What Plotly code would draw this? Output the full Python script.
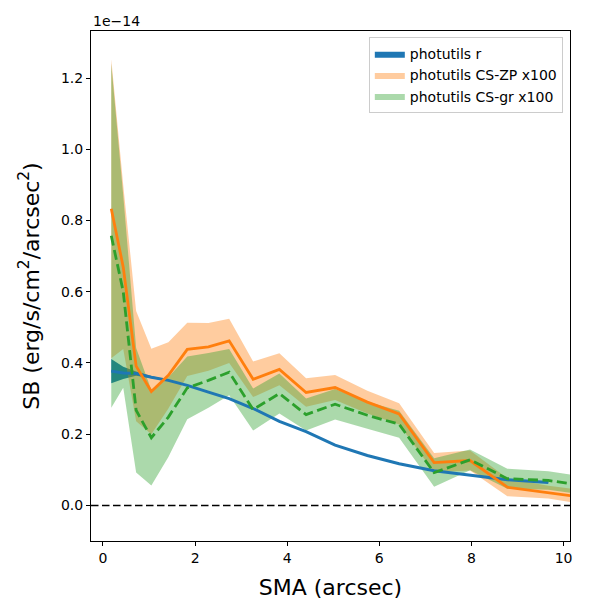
import plotly.graph_objects as go

# SMA (arcsec)
sma = [0.18, 0.44, 0.72, 1.05, 1.42, 1.83, 2.29, 2.74, 3.26, 3.83,
       4.41, 5.04, 5.74, 6.43, 7.19, 7.97, 8.78, 9.67, 10.64]

# surface brightness, in units of 1e-14 erg/s/cm^2/arcsec^2
sb_r = [0.377, 0.372, 0.370, 0.360, 0.351, 0.337, 0.318, 0.300, 0.272, 0.236,
        0.207, 0.169, 0.140, 0.117, 0.097, 0.084, 0.072, 0.064]
sb_r_err = [0.034, 0.017, 0.006, 0.003, 0.002, 0.002, 0.001, 0.001, 0.001, 0.001,
            0.001, 0.001, 0.001, 0.001, 0.001, 0.001, 0.001, 0.001]

sb_zp = [0.833, 0.669, 0.391, 0.320, 0.365, 0.438, 0.445, 0.462, 0.354, 0.382,
         0.317, 0.331, 0.290, 0.257, 0.120, 0.126, 0.051, 0.037, 0.019]
sb_zp_err = [0.42, 0.23, 0.155, 0.12, 0.093, 0.075, 0.067, 0.062, 0.05, 0.045,
             0.04, 0.035, 0.032, 0.03, 0.027, 0.028, 0.025, 0.018, 0.02]

sb_gr = [0.757, 0.60, 0.267, 0.19, 0.248, 0.33, 0.351, 0.374, 0.269, 0.314,
         0.255, 0.284, 0.253, 0.228, 0.092, 0.128, 0.075, 0.070, 0.052]
sb_gr_err = [0.483, 0.27, 0.175, 0.134, 0.112, 0.088, 0.077, 0.065, 0.059, 0.056,
             0.045, 0.043, 0.038, 0.038, 0.04, 0.029, 0.028, 0.026, 0.025]

BLUE = '#1f77b4'
ORANGE = '#ff7f0e'
GREEN = '#2ca02c'

fig = go.Figure()


def add_band(x, y, err, fillcolor, name):
    lo = [v - e for v, e in zip(y, err)]
    hi = [v + e for v, e in zip(y, err)]
    fig.add_trace(go.Scatter(x=x, y=lo, mode='lines', line=dict(width=0),
                             showlegend=False, hoverinfo='skip'))
    fig.add_trace(go.Scatter(x=x, y=hi, mode='lines', line=dict(width=0),
                             fill='tonexty', fillcolor=fillcolor, name=name))


# bands first, lines on top
add_band(sma[:len(sb_r)], sb_r, sb_r_err, BLUE, 'photutils r')
add_band(sma, sb_zp, sb_zp_err, 'rgba(255,127,14,0.4)', 'photutils CS-ZP x100')
add_band(sma, sb_gr, sb_gr_err, 'rgba(44,160,44,0.4)', 'photutils CS-gr x100')

fig.add_trace(go.Scatter(x=sma[:len(sb_r)], y=sb_r, mode='lines',
                         line=dict(color=BLUE, width=3), showlegend=False))
fig.add_trace(go.Scatter(x=sma, y=sb_zp, mode='lines',
                         line=dict(color=ORANGE, width=2.8), showlegend=False))
fig.add_trace(go.Scatter(x=sma, y=sb_gr, mode='lines',
                         line=dict(color=GREEN, width=2.8, dash='10px,4.5px'),
                         showlegend=False))

# zero level
fig.add_shape(type='line', xref='paper', x0=0, x1=1, yref='y', y0=0, y1=0,
              line=dict(color='black', width=1.5, dash='7.5px,3.5px'))

fig.add_annotation(text='1e\u221214', xref='paper', yref='paper', x=0, y=1,
                   xanchor='left', yanchor='bottom', showarrow=False,
                   font=dict(size=14, color='black'))

axis_style = dict(showline=True, linecolor='black', linewidth=1, mirror=True,
                  ticks='outside', ticklen=4, tickcolor='black', showgrid=False,
                  zeroline=False, automargin=False,
                  tickfont=dict(size=14, color='black'))

fig.update_xaxes(range=[-0.26, 10.14], tickvals=[0, 2, 4, 6, 8, 10],
                 title=dict(text='SMA (arcsec)', font=dict(size=22, color='black')),
                 **axis_style)
fig.update_yaxes(range=[-0.1, 1.332], tickvals=[0, 0.2, 0.4, 0.6, 0.8, 1.0, 1.2],
                 tickformat='.1f',
                 title=dict(text='SB (erg/s/cm<sup>2</sup>/arcsec<sup>2</sup>)',
                            font=dict(size=22, color='black')),
                 **axis_style)

fig.update_layout(
    width=600, height=600,
    margin=dict(l=91, r=30, t=31, b=59),
    plot_bgcolor='white', paper_bgcolor='white',
    font=dict(family='DejaVu Sans', color='black'),
    legend=dict(x=0.985, y=0.988, xanchor='right', yanchor='top',
                traceorder='normal',
                bordercolor='#cccccc', borderwidth=1, bgcolor='white',
                font=dict(size=14)),
)

# page body has a default margin; drop it so the figure fills the window
fig.write_html('out.html', config={'displayModeBar': False},
               post_script="document.body.style.margin='0';")
